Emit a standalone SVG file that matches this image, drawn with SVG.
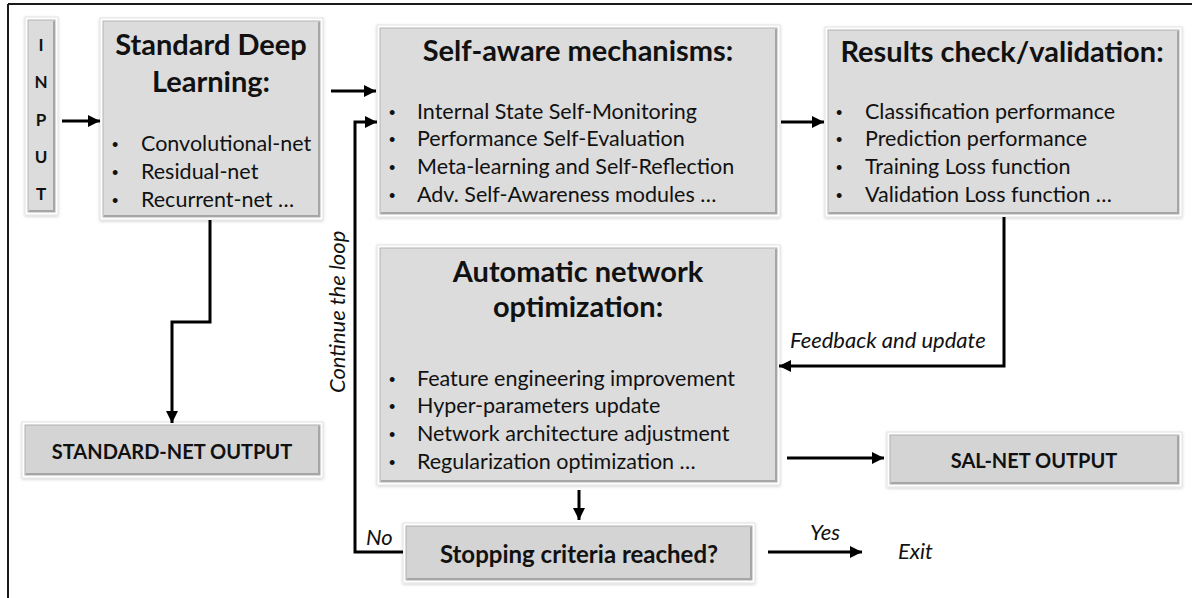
<svg xmlns="http://www.w3.org/2000/svg" width="1192" height="598" viewBox="0 0 1192 598">
<style>
.outer{fill:#ffffff;stroke:#e2e2e2;stroke-width:1;filter:url(#sh)}
.inner{fill:#dcdcdc;stroke:#b4b4b4;stroke-width:1}
.innerD{fill:#d4d4d4;stroke:#b0b0b0;stroke-width:1}
.dk{stroke:#a6a6a6;stroke-width:2;fill:none}
.title{font-family:Lato,"Liberation Sans",sans-serif;font-weight:bold;font-size:29px;fill:#111;text-anchor:middle}
.item{font-family:Lato,"Liberation Sans",sans-serif;font-size:21.5px;fill:#111}
.bul{font-family:"Liberation Sans",sans-serif;font-size:18px;fill:#111}
.lbl{font-family:Lato,"Liberation Sans",sans-serif;font-weight:bold;font-size:20px;fill:#111;text-anchor:middle}
.it{font-family:Lato,"Liberation Sans",sans-serif;font-style:italic;font-size:22px;fill:#111}
.con{stroke:#000;stroke-width:3;fill:none}
</style>
<defs>
<filter id="sh" x="-10%" y="-10%" width="120%" height="130%">
<feDropShadow dx="0" dy="1" stdDeviation="1.5" flood-color="#000" flood-opacity="0.18"/>
</filter>
<marker id="ah" markerUnits="userSpaceOnUse" markerWidth="14" markerHeight="14" refX="12" refY="6" orient="auto">
<path d="M0,0 L12,6 L0,12 Z" fill="#000"/>
</marker>
</defs>
<rect width="1192" height="598" fill="#fff"/>
<g id="frame" stroke="#1a1a1a" stroke-width="2">
<line x1="8" y1="4" x2="1192" y2="4"/>
<line x1="8" y1="4" x2="8" y2="598"/>
</g>

<g id="input">
<rect class="outer" x="25" y="17" width="33" height="198"/>
<rect class="inner" x="28" y="20" width="27" height="192"/>
<polyline class="dk" points="29,211 54,211 54,21"/>
<g class="lbl" style="font-size:17px">
<text x="41" y="51">I</text>
<text x="41" y="88">N</text>
<text x="41" y="126">P</text>
<text x="41" y="163">U</text>
<text x="41" y="200">T</text>
</g>
</g>

<g id="sdl">
<rect class="outer" x="100" y="18" width="223" height="202"/>
<rect class="inner" x="103" y="21" width="217" height="196"/>
<polyline class="dk" points="104,216 319,216 319,22"/>
<text class="title" x="211" y="55">Standard Deep</text>
<text class="title" x="211" y="92">Learning:</text>
<g class="bul"><text x="112" y="151">•</text><text x="112" y="179">•</text><text x="112" y="207">•</text></g>
<g class="item">
<text x="141" y="151">Convolutional-net</text>
<text x="141" y="179">Residual-net</text>
<text x="141" y="207">Recurrent-net …</text>
</g>
</g>

<g id="sam">
<rect class="outer" x="377" y="25" width="403" height="192"/>
<rect class="inner" x="380" y="28" width="397" height="186"/>
<polyline class="dk" points="381,213 776,213 776,29"/>
<text class="title" x="578" y="61">Self-aware mechanisms:</text>
<g class="bul"><text x="389" y="119">•</text><text x="389" y="146">•</text><text x="389" y="174">•</text><text x="389" y="202">•</text></g>
<g class="item">
<text x="417" y="119">Internal State Self-Monitoring</text>
<text x="417" y="146">Performance Self-Evaluation</text>
<text x="417" y="174">Meta-learning and Self-Reflection</text>
<text x="417" y="202">Adv. Self-Awareness modules …</text>
</g>
</g>

<g id="rc">
<rect class="outer" x="825" y="27" width="357" height="190"/>
<rect class="inner" x="828" y="30" width="351" height="184"/>
<polyline class="dk" points="829,213 1178,213 1178,31"/>
<text class="title" x="1002" y="62">Results check/validation:</text>
<g class="bul"><text x="836" y="119">•</text><text x="836" y="146">•</text><text x="836" y="174">•</text><text x="836" y="202">•</text></g>
<g class="item">
<text x="865" y="119">Classification performance</text>
<text x="865" y="146">Prediction performance</text>
<text x="865" y="174">Training Loss function</text>
<text x="865" y="202">Validation Loss function …</text>
</g>
</g>

<g id="ao">
<rect class="outer" x="377" y="245" width="403" height="240"/>
<rect class="inner" x="380" y="248" width="397" height="234"/>
<polyline class="dk" points="381,481 776,481 776,249"/>
<text class="title" x="578" y="282">Automatic network</text>
<text class="title" x="578" y="317">optimization:</text>
<g class="bul"><text x="389" y="386">•</text><text x="389" y="413">•</text><text x="389" y="441">•</text><text x="389" y="469">•</text></g>
<g class="item">
<text x="417" y="386">Feature engineering improvement</text>
<text x="417" y="413">Hyper-parameters update</text>
<text x="417" y="441">Network architecture adjustment</text>
<text x="417" y="469">Regularization optimization …</text>
</g>
</g>

<g id="stdout">
<rect class="outer" x="22" y="422" width="301" height="56"/>
<rect class="innerD" x="25" y="425" width="295" height="50"/>
<polyline class="dk" points="26,474 319,474 319,426"/>
<text class="lbl" x="172" y="459">STANDARD-NET OUTPUT</text>
</g>

<g id="salout">
<rect class="outer" x="887" y="432" width="295" height="55"/>
<rect class="innerD" x="890" y="435" width="289" height="49"/>
<polyline class="dk" points="891,483 1178,483 1178,436"/>
<text class="lbl" x="1034" y="468">SAL-NET OUTPUT</text>
</g>

<g id="stop">
<rect class="outer" x="403" y="523" width="352" height="60"/>
<rect class="innerD" x="406" y="526" width="346" height="54"/>
<polyline class="dk" points="407,579 751,579 751,527"/>
<text class="lbl" x="579" y="563" style="font-size:24px">Stopping criteria reached?</text>
</g>

<g id="connectors">
<path class="con" d="M62 121 H100" marker-end="url(#ah)"/>
<path class="con" d="M331 91 H376" marker-end="url(#ah)"/>
<path class="con" d="M403 552 H355 V122 H377" marker-end="url(#ah)"/>
<path class="con" d="M781 122 H824" marker-end="url(#ah)"/>
<path class="con" d="M210 220 V322 H172 V423" marker-end="url(#ah)"/>
<path class="con" d="M1004 217 V366 H779" marker-end="url(#ah)"/>
<path class="con" d="M787 458 H884" marker-end="url(#ah)"/>
<path class="con" d="M579 490 V520" marker-end="url(#ah)"/>
<path class="con" d="M768 552 H862" marker-end="url(#ah)"/>
<text class="it" x="790" y="348">Feedback and update</text>
<text class="it" transform="translate(345,393) rotate(-90)">Continue the loop</text>
<text class="it" x="366" y="545">No</text>
<text class="it" x="825" y="540" text-anchor="middle">Yes</text>
<text class="it" x="898" y="559">Exit</text>
</g>
</svg>
